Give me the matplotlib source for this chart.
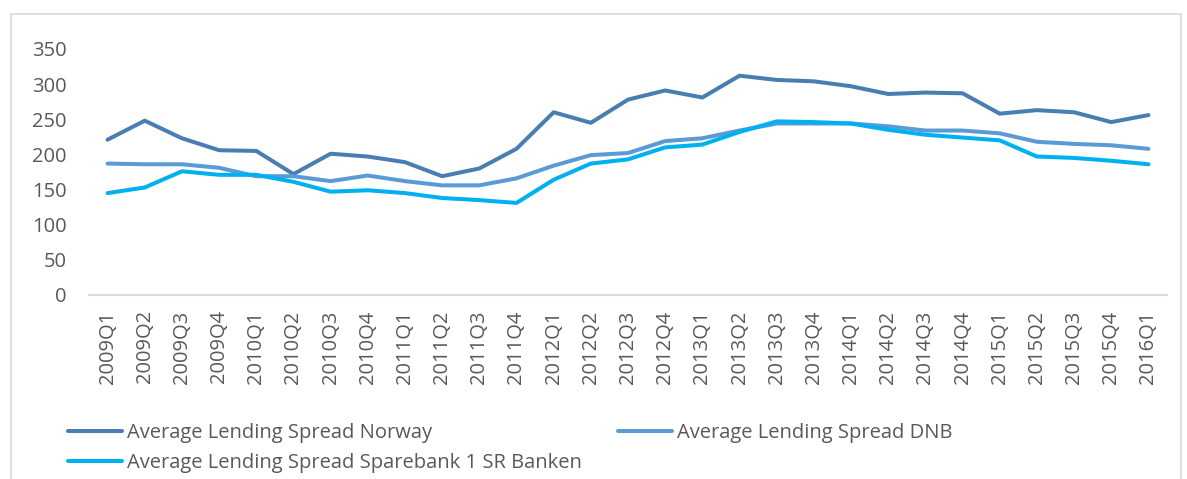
import matplotlib
matplotlib.use("Agg")
import matplotlib.pyplot as plt
from matplotlib.patches import Rectangle

# Quarterly lending spreads (basis points)
quarters = [f"{y}Q{q}" for y in range(2009, 2016) for q in range(1, 5)] + ["2016Q1"]

norway = [221, 248, 223, 206, 205, 172, 201, 197, 189, 169,
          180, 208, 260, 245, 278, 291, 281, 312, 306, 304,
          297, 286, 288, 287, 258, 263, 260, 246, 256]
dnb = [187, 186, 186, 181, 169, 169, 162, 170, 162, 156,
       156, 166, 184, 199, 202, 219, 223, 234, 244, 244,
       244, 240, 234, 234, 230, 218, 215, 213, 208]
sparebank = [145, 153, 176, 171, 171, 161, 147, 149, 145, 138,
             135, 131, 164, 187, 193, 210, 214, 232, 247, 246,
             244, 235, 228, 224, 220, 197, 195, 191, 186]

series_names = ["Average Lending Spread Norway",
                "Average Lending Spread DNB",
                "Average Lending Spread Sparebank 1 SR Banken"]
colors = ["#4A7EB2", "#5B9BD5", "#00B0F0"]
text_color = "#595959"
fs = 14.5

plt.rcParams["font.family"] = ["Open Sans", "DejaVu Sans"]

W, H = 1187, 479
fig = plt.figure(figsize=(W / 100, H / 100), dpi=100)

# light gray frame around the chart area
fig.patches.append(Rectangle((11 / W, -0.05), 1170 / W, 1 - 14 / H + 0.05,
                             transform=fig.transFigure, fill=False,
                             edgecolor="#D9D9D9", linewidth=1.2))

ax = fig.add_axes([89 / W, 1 - 295 / H, (1167 - 89) / W, (295 - 49) / H])

x = list(range(len(quarters)))
lines = []
for vals, name, col in zip([norway, dnb, sparebank], series_names, colors):
    ln, = ax.plot(x, vals, color=col, linewidth=2.9, label=name, solid_capstyle="round")
    lines.append(ln)

ax.set_xlim(-0.5, len(quarters) - 0.5)
ax.set_ylim(0, 350)
ax.set_yticks(range(0, 351, 50))
ax.set_xticks(x)
ax.set_xticklabels(quarters, rotation=90)

for side in ["top", "right", "left"]:
    ax.spines[side].set_visible(False)
ax.spines["bottom"].set_color("#D9D9D9")
ax.spines["bottom"].set_linewidth(1.5)

ax.tick_params(axis="y", length=0, pad=16, labelsize=fs, labelcolor=text_color)
ax.tick_params(axis="x", length=0, pad=11, labelsize=fs, labelcolor=text_color)

# legend laid out row-wise like the original: Norway | DNB, then Sparebank
leg_kw = dict(loc="upper left", frameon=False, fontsize=fs, handlelength=2.7,
              handletextpad=0.25, labelspacing=0.52, borderpad=0, borderaxespad=0,
              labelcolor=text_color)
fig.legend([lines[0], lines[2]], [series_names[0], series_names[2]],
           bbox_to_anchor=(68 / W, 1 - 423 / H), **leg_kw)
fig.legend([lines[1]], [series_names[1]],
           bbox_to_anchor=(618 / W, 1 - 423 / H), **leg_kw)

fig.savefig("out.png", dpi=100)
